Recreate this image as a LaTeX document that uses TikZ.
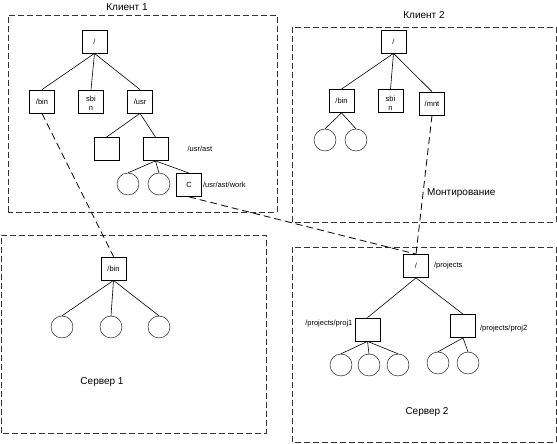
\documentclass[tikz,border=0pt]{standalone}
\usepackage{fontspec}
\setmainfont{Liberation Sans}
\usetikzlibrary{positioning}

\begin{document}
\begin{tikzpicture}[x=1pt, y=1pt]
		\def\bw{25pt}
		\def\bh{23pt}
		\def\csize{22pt}
		\tikzset{
			dirbox/.style={draw=black, thick, fill=white, minimum width=\bw, minimum height=\bh, inner sep=0pt, font=\fontsize{7.5}{9}\selectfont},
			filenode/.style={draw=black, circle, fill=white, minimum size=\csize, inner sep=0pt},
			hostarea/.style={draw=black!80, thick, dash pattern=on 6pt off 3pt},
			mountline/.style={thick, dash pattern=on 7pt off 4pt},
			treeline/.style={semithick},
			pathlabel/.style={inner sep=0pt, font=\fontsize{7.5}{9}\selectfont},
			hosttitle/.style={inner sep=0pt, font=\fontsize{10}{12}\selectfont}
		}
		\draw[draw=none, use as bounding box] (0,0) rectangle (557,444);

		% Areas
		\draw[hostarea] (8,232) rectangle (277,429);
		\draw[hostarea] (292,222) rectangle (556,417);
		\draw[hostarea] (1,11) rectangle (266,209);
		\draw[hostarea] (292,2) rectangle (556,197);

		\node[hosttitle] (client1) at (127,437) {Клиент 1};
		\node[hosttitle] (client2) at (424,429) {Клиент 2};
		\node[hosttitle] (server1) at (102,62) {Сервер 1};
		\node[hosttitle] (server2) at (427,32) {Сервер 2};

		% Client 1
		\node[dirbox] (root1) at (94.5,402.5) {/};
		\node[dirbox] (bin1) at ([xshift=-52.5pt, yshift=-60pt]root1) {/bin};
		\node[dirbox, align=center, text height=19pt, text depth=0pt] (sbin1) at ([xshift=-3.5pt, yshift=-60pt]root1) {sbi\\n};
		\node[dirbox] (usr1) at ([xshift=45.5pt, yshift=-60pt]root1) {/usr};
		\node[dirbox] (empty1) at ([xshift=-33.5pt, yshift=-47.5pt]usr1) {};
		\node[dirbox] (ast1) at ([xshift=15.5pt, yshift=-47.5pt]usr1) {};
		\node[pathlabel, anchor=west] (astlabel) at ([xshift=19pt]ast1.east) {/usr/ast};
		\node[filenode] (f1a) at ([xshift=-27.5pt, yshift=-35pt]ast1) {};
		\node[filenode] (f1b) at ([xshift=3.5pt, yshift=-35pt]ast1) {};
		\node[dirbox] (work1) at ([xshift=33.5pt, yshift=-36pt]ast1) {C};
		\node[pathlabel, anchor=west] (worklabel) at ([xshift=1pt]work1.east) {/usr/ast/work};

		\draw[treeline] (root1.south) -- (bin1.north);
		\draw[treeline] (root1.south) -- (sbin1.north);
		\draw[treeline] (root1.south) -- (usr1.north);
		\draw[treeline] (usr1.south) -- (empty1.north);
		\draw[treeline] (usr1.south) -- (ast1.north);
		\draw[treeline] (ast1.south) -- (f1a.north);
		\draw[treeline] (ast1.south) -- (f1b.north);
		\draw[treeline] (ast1.south) -- (work1.north);

		% Client 2
		\node[dirbox] (root2) at (393.5,402.5) {/};
		\node[dirbox] (bin2) at ([xshift=-52pt, yshift=-59.5pt]root2) {/bin};
		\node[dirbox, align=center, text height=19pt, text depth=0pt] (sbin2) at ([xshift=-3pt, yshift=-59.5pt]root2) {sbi\\n};
		\node[dirbox] (mnt2) at ([xshift=38.5pt, yshift=-62pt]root2) {/mnt};
		\node[filenode] (f2a) at ([xshift=-16.5pt, yshift=-39pt]bin2) {};
		\node[filenode] (f2b) at ([xshift=14.5pt, yshift=-39pt]bin2) {};
		\node[hosttitle, anchor=west] (mountlabel) at (427,251) {Монтирование};

		\draw[treeline] (root2.south) -- (bin2.north);
		\draw[treeline] (root2.south) -- (sbin2.north);
		\draw[treeline] (root2.south) -- (mnt2.north);
		\draw[treeline] (bin2.south) -- (f2a.north);
		\draw[treeline] (bin2.south) -- (f2b.north);

		% Server 1
		\node[dirbox] (bin3) at (113.5,175.5) {/bin};
		\node[filenode] (f3a) at ([xshift=-51.5pt, yshift=-58.5pt]bin3) {};
		\node[filenode] (f3b) at ([xshift=-2.5pt, yshift=-58.5pt]bin3) {};
		\node[filenode] (f3c) at ([xshift=45.5pt, yshift=-58.5pt]bin3) {};

		\draw[treeline] (bin3.south) -- (f3a.north);
		\draw[treeline] (bin3.south) -- (f3b.north);
		\draw[treeline] (bin3.south) -- (f3c.north);

		% Server 2
		\node[dirbox] (root4) at (416,178) {/};
		\node[pathlabel, anchor=west] (projlabel) at ([xshift=5pt]root4.east) {/projects};
		\node[dirbox] (proj1) at ([xshift=-48.5pt, yshift=-63.5pt]root4) {};
		\node[pathlabel, anchor=east] (proj1label) at ([xshift=-2pt, yshift=6pt]proj1.west) {/projects/proj1};
		\node[dirbox] (proj2) at ([xshift=47pt, yshift=-60pt]root4) {};
		\node[pathlabel, anchor=west] (proj2label) at ([xshift=4pt, yshift=-3pt]proj2.east) {/projects/proj2};
		\node[filenode] (f4a) at ([xshift=-26.5pt, yshift=-35.5pt]proj1) {};
		\node[filenode] (f4b) at ([xshift=1.5pt, yshift=-35.5pt]proj1) {};
		\node[filenode] (f4c) at ([xshift=30.5pt, yshift=-35.5pt]proj1) {};
		\node[filenode] (f4d) at ([xshift=-25pt, yshift=-37pt]proj2) {};
		\node[filenode] (f4e) at ([xshift=5pt, yshift=-37pt]proj2) {};

		\draw[treeline] (root4.south) -- (proj1.north);
		\draw[treeline] (root4.south) -- (proj2.north);
		\draw[treeline] (proj1.south) -- (f4a.north);
		\draw[treeline] (proj1.south) -- (f4b.north);
		\draw[treeline] (proj1.south) -- (f4c.north);
		\draw[treeline] (proj2.south) -- (f4d.north);
		\draw[treeline] (proj2.south) -- (f4e.north);

		% Mounts
		\draw[mountline] (bin1.south) -- (bin3.north);
		\draw[mountline] (work1.south) -- (root4.north);
		\draw[mountline] (mnt2.south) -- (root4.north);
\end{tikzpicture}
\end{document}
